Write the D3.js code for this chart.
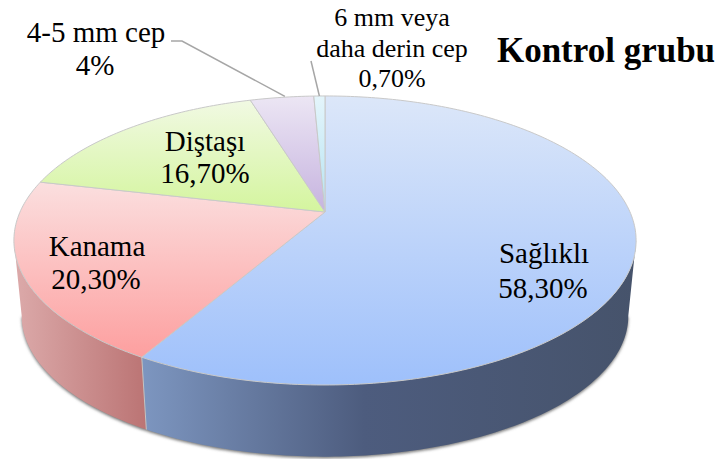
<!DOCTYPE html>
<html><head><meta charset="utf-8">
<script src="https://d3js.org/d3.v7.min.js"></script>
<style>html,body{margin:0;padding:0;background:#fff}svg{display:block}text{font-family:"Liberation Serif","Times New Roman",serif;fill:#000}</style>
</head><body><svg id="c" width="722" height="459"></svg>
<script>
const categories = ["Sağlıklı","Kanama","Diştaşı","4-5 mm cep","6 mm veya daha derin cep"];
const values = [58.3,20.3,16.7,4,0.7];
const valueLabels = ["58,30%","20,30%","16,70%","4%","0,70%"];
const title = "Kontrol grubu";
const topColors = [["#dce7f9","#9ec0fb"],["#fbdfdf","#fd9f9f"],["#f1f9e3","#d4f59e"],["#ece6f4","#c6b3df"],["#e4f5fb","#b5e3f2"]];
const sideColors = [[["0","#7d96c0"],["0.45","#4d5c7e"],["1","#46536b"]],[["0","#dcaaaa"],["1","#bb7474"]]];

const svg = d3.select("#c");
const defs = svg.append("defs");
const X0=325,Y0=212,A=305,B=138.9,K=-0.197;
const DEPTH=76,S=0.975;
const project=(a,s=1,dy=0)=>{const u=Math.sin(a),v=-Math.cos(a),d=1+K*v;return [X0+s*A*u/d,Y0+dy+s*B*v/d];};
const pie=d3.pie().sort(null).value(d=>d).startAngle(0).endAngle(2*Math.PI);
const arcs=pie(values);
const line=d3.line();
const samples=(a0,a1)=>{const n=Math.max(4,Math.ceil(Math.abs(a1-a0)*60));return d3.range(n+1).map(i=>a0+(a1-a0)*i/n);};

const blur=defs.append("filter").attr("id","sh").attr("x","-10%").attr("y","-10%").attr("width","120%").attr("height","130%");
blur.append("feGaussianBlur").attr("stdDeviation",1.6);

topColors.forEach((c,i)=>{
  const g=defs.append("linearGradient").attr("id","t"+i).attr("x1",0).attr("y1",0).attr("x2",0).attr("y2",1);
  g.append("stop").attr("offset",0).attr("stop-color",c[0]);
  g.append("stop").attr("offset",1).attr("stop-color",c[1]);
});
sideColors.forEach((c,i)=>{
  const g=defs.append("linearGradient").attr("id","s"+i).attr("x1",0).attr("y1",0).attr("x2",1).attr("y2",0);
  c.forEach(s=>g.append("stop").attr("offset",s[0]).attr("stop-color",s[1]));
});

const front0=Math.acos(K), front1=2*Math.PI-Math.acos(K);
// soft shadow beneath the base
svg.append("path").attr("d",line(samples(front0,front1).map(a=>project(a,S,DEPTH+1.5)))+"Z")
  .attr("fill","#777").attr("filter","url(#sh)");

// side walls
arcs.slice(0,2).forEach((d,i)=>{
  const a0=Math.max(d.startAngle,front0),a1=Math.min(d.endAngle,front1);
  const pts=samples(a0,a1).map(a=>project(a)).concat(samples(a1,a0).map(a=>project(a,S,DEPTH)));
  svg.append("path").attr("d",line(pts)+"Z").attr("fill",`url(#s${i})`).attr("stroke","none");
});
// seam between the walls
const seam=arcs[0].endAngle;
svg.append("path").attr("d",line([project(seam),project(seam,S,DEPTH)])).attr("stroke","#c4c4c4").attr("stroke-width",1).attr("fill","none");

// top face
arcs.forEach((d,i)=>{
  const pts=[[X0,Y0]].concat(samples(d.startAngle,d.endAngle).map(a=>project(a)));
  svg.append("path").attr("d",line(pts)+"Z").attr("fill",`url(#t${i})`).attr("stroke","#c9c9c9").attr("stroke-width",1).attr("stroke-linejoin","round");
});

// leader lines
const mid=i=>(arcs[i].startAngle+arcs[i].endAngle)/2;
const lp3=project(mid(3)),lp4=project(mid(4));
svg.append("path").attr("d",line([[171,41],[182,41],[lp3[0]+3,lp3[1]-1]])).attr("fill","none").attr("stroke","#a6a6a6").attr("stroke-width",1.5);
svg.append("path").attr("d",line([[311,61],[lp4[0],lp4[1]]])).attr("fill","none").attr("stroke","#a6a6a6").attr("stroke-width",1.5);

// labels
const lab=(x,y,t,size,w)=>svg.append("text").attr("x",x).attr("y",y).attr("text-anchor","middle").attr("font-size",size).attr("font-weight",w||400).text(t);
lab(544,263,categories[0],29); lab(543,298,valueLabels[0],29);
lab(97,256,categories[1],29); lab(96,289,valueLabels[1],29);
lab(205,151,categories[2],29); lab(205,183,valueLabels[2],29);
lab(96,42,categories[3],29); lab(95,75,valueLabels[3],29);
const w=categories[4].split(" ");
lab(392,26,w.slice(0,3).join(" "),26); lab(392,57,w.slice(3).join(" "),26); lab(392,87,valueLabels[4],26);
lab(606,62,title,35,700);
</script></body></html>
